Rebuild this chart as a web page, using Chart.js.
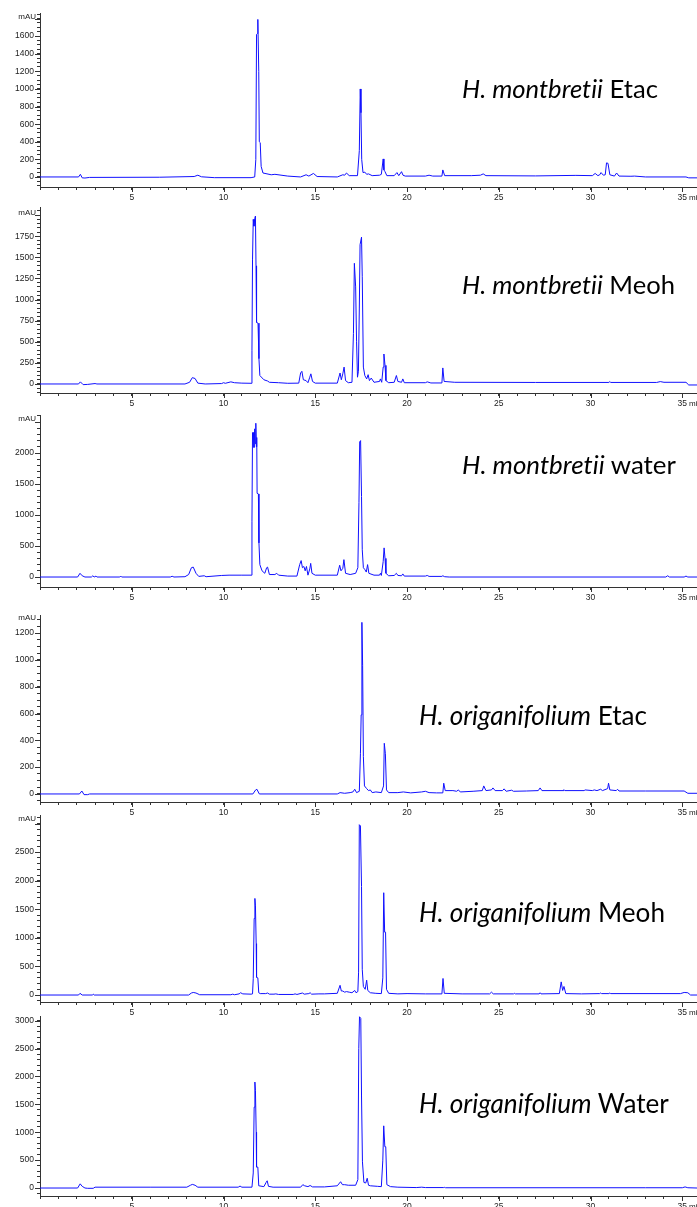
<!DOCTYPE html>
<html><head><meta charset="utf-8">
<script src="https://cdn.jsdelivr.net/npm/chart.js@4.4.1/dist/chart.umd.min.js"></script>
<style>
html,body{margin:0;padding:0;background:#fff;width:697px;height:1207px;overflow:hidden;position:relative;}
canvas{position:absolute;left:0;}
.t{position:absolute;font-family:Lato,"Open Sans",sans-serif;font-size:24px;line-height:24px;color:#000;white-space:nowrap;font-variant-ligatures:none;font-feature-settings:"liga" 0,"clig" 0;}
.t i{font-style:italic;}
.u{position:absolute;font-family:"Liberation Sans",Arial,sans-serif;font-size:8px;line-height:8px;color:#222;white-space:nowrap;}
</style></head><body>
<script>
// ---- retention time (min) / absorbance (mAU) pairs ----
const hmEtac = [[0,0],[2.1,0],[2.2,30],[2.3,-10],[2.45,-12],[2.7,-5],[6.5,-3],[8.4,5],[8.6,20],[8.8,2],[9.5,-8],[11.5,-8],[11.7,0],[11.76,200],[11.8,1620],[11.85,1630],[11.87,1790],[11.92,1200],[11.95,400],[12.0,390],[12.05,120],[12.15,45],[12.6,25],[12.8,30],[13.5,10],[14.2,0],[14.5,25],[14.65,10],[14.9,40],[15.1,5],[16.2,0],[16.5,25],[16.6,20],[16.7,45],[16.85,15],[17.3,15],[17.4,300],[17.45,1000],[17.49,730],[17.53,200],[17.6,50],[17.7,55],[17.8,30],[17.9,35],[18.1,15],[18.5,20],[18.6,30],[18.7,205],[18.74,80],[18.8,60],[18.9,15],[19.3,15],[19.45,50],[19.55,15],[19.7,60],[19.78,20],[19.9,10],[21.0,10],[21.2,20],[21.4,10],[21.9,10],[21.95,80],[22.05,15],[23.5,15],[24.0,20],[24.15,35],[24.3,15],[27.0,12],[29.2,18],[30.1,15],[30.25,40],[30.4,15],[30.5,25],[30.57,50],[30.7,20],[30.8,25],[30.87,160],[30.95,155],[31.05,25],[31.3,10],[31.42,45],[31.55,10],[32.2,8],[32.4,10],[33.0,0],[35.2,0],[35.35,-10],[35.8,-10]];
const hmMeoh = [[0,0],[2.1,0],[2.2,25],[2.35,-8],[2.6,-5],[3.0,5],[3.1,0],[7.9,0],[8.15,20],[8.3,75],[8.45,65],[8.6,10],[9.0,0],[9.9,5],[10.0,15],[10.1,8],[10.4,25],[10.6,15],[11.0,10],[11.5,8],[11.55,400],[11.58,1470],[11.62,1950],[11.66,1870],[11.7,1960],[11.74,1990],[11.77,1400],[11.8,730],[11.88,720],[11.93,300],[11.98,100],[12.2,50],[12.4,35],[12.5,20],[13.0,15],[13.5,8],[14.1,10],[14.2,130],[14.27,150],[14.35,50],[14.5,40],[14.6,15],[14.7,80],[14.76,120],[14.85,30],[15.0,10],[16.2,10],[16.35,130],[16.42,50],[16.5,120],[16.57,200],[16.65,40],[16.8,15],[17.0,20],[17.08,600],[17.13,1430],[17.2,1150],[17.25,500],[17.3,80],[17.35,150],[17.4,900],[17.44,1650],[17.48,1650],[17.52,1740],[17.56,1270],[17.62,200],[17.7,100],[17.8,60],[17.88,110],[17.95,40],[18.05,70],[18.2,20],[18.5,30],[18.55,60],[18.62,20],[18.7,200],[18.74,355],[18.8,220],[18.85,40],[19.0,15],[19.3,20],[19.42,100],[19.5,30],[19.7,20],[19.77,60],[19.85,15],[21.0,15],[21.1,25],[21.3,12],[21.9,12],[21.95,190],[22.02,30],[22.6,20],[27.0,18],[31.0,18],[31.05,28],[31.1,18],[33.6,18],[33.8,28],[34.0,20],[35.2,20],[35.35,-12],[35.8,-12]];
const hmWater = [[0,0],[2.05,0],[2.18,60],[2.3,20],[2.45,0],[2.8,0],[2.88,20],[2.95,0],[3.05,15],[3.1,0],[4.35,0],[4.4,15],[4.45,0],[7.1,0],[7.2,12],[7.3,0],[7.9,5],[8.1,40],[8.25,150],[8.35,160],[8.5,60],[8.65,10],[8.95,20],[9.05,5],[9.9,25],[10.3,30],[11.0,30],[11.5,30],[11.55,900],[11.58,2330],[11.63,2330],[11.66,2090],[11.7,2390],[11.73,2150],[11.76,2480],[11.79,2100],[11.81,2250],[11.83,1350],[11.9,1340],[11.93,550],[11.98,200],[12.1,100],[12.25,60],[12.35,150],[12.4,160],[12.5,40],[12.8,40],[12.9,60],[13.0,30],[13.5,15],[14.0,15],[14.15,200],[14.23,265],[14.3,150],[14.38,170],[14.45,100],[14.52,170],[14.6,30],[14.7,130],[14.75,220],[14.82,60],[15.0,30],[16.2,30],[16.33,190],[16.4,100],[16.5,140],[16.56,280],[16.65,60],[16.9,40],[17.2,60],[17.32,150],[17.38,1200],[17.42,2180],[17.47,2200],[17.52,1300],[17.56,440],[17.62,150],[17.7,120],[17.78,80],[17.85,200],[17.92,60],[18.2,30],[18.5,30],[18.55,60],[18.6,25],[18.7,250],[18.75,470],[18.8,300],[18.85,60],[19.0,20],[19.3,25],[19.42,60],[19.5,25],[19.7,20],[19.77,50],[19.85,15],[21.0,15],[21.1,25],[21.2,10],[21.9,10],[21.95,20],[22.05,5],[22.3,0],[34.1,0],[34.2,20],[34.3,0],[35.1,0],[35.2,15],[35.3,0],[35.8,0]];
const hoEtac = [[0,0],[2.15,0],[2.28,22],[2.4,-5],[2.6,-5],[2.7,0],[11.6,0],[11.75,30],[11.82,35],[11.95,0],[16.2,0],[16.35,10],[16.6,5],[16.9,10],[17.05,15],[17.15,35],[17.25,10],[17.4,20],[17.46,300],[17.5,590],[17.54,1280],[17.58,960],[17.62,280],[17.68,60],[17.8,40],[17.9,25],[18.0,30],[18.1,10],[18.3,15],[18.6,10],[18.72,60],[18.76,378],[18.82,300],[18.88,30],[19.0,10],[19.5,10],[19.8,15],[20.2,8],[20.8,15],[21.0,20],[21.2,10],[21.6,8],[21.95,8],[22.0,80],[22.08,25],[22.5,25],[22.7,20],[22.8,30],[22.9,15],[23.6,20],[24.1,25],[24.18,60],[24.3,25],[24.6,30],[24.68,45],[24.8,25],[25.2,25],[25.29,38],[25.4,20],[25.7,28],[25.8,20],[26.5,22],[27.15,25],[27.25,45],[27.35,25],[28.5,25],[28.55,32],[28.6,25],[29.65,25],[29.7,30],[30.1,25],[30.2,30],[30.35,25],[30.55,35],[30.65,25],[30.93,40],[30.98,80],[31.05,30],[31.4,25],[31.47,35],[31.55,22],[33.0,22],[35.1,22],[35.3,5],[35.8,5]];
const hoMeoh = [[0,0],[2.1,0],[2.18,30],[2.3,0],[2.85,0],[2.9,15],[2.95,0],[8.1,0],[8.25,35],[8.35,45],[8.5,35],[8.7,5],[10.4,5],[10.5,15],[10.6,5],[10.85,20],[10.93,40],[11.05,20],[11.5,15],[11.58,20],[11.62,285],[11.67,1340],[11.71,1690],[11.74,1560],[11.78,900],[11.8,310],[11.87,300],[11.92,40],[12.0,25],[12.3,25],[12.4,35],[12.5,15],[12.75,15],[12.85,20],[13.0,10],[13.8,10],[13.9,20],[14.0,10],[14.3,35],[14.4,15],[14.65,25],[14.72,40],[14.8,15],[15.2,20],[15.5,20],[16.2,30],[16.35,170],[16.42,70],[16.5,70],[16.6,50],[16.7,60],[16.85,50],[17.0,40],[17.15,80],[17.22,40],[17.32,60],[17.36,400],[17.4,2980],[17.46,2960],[17.52,1900],[17.56,450],[17.62,150],[17.72,100],[17.8,260],[17.86,80],[18.0,40],[18.3,30],[18.6,25],[18.68,300],[18.73,1790],[18.78,1100],[18.83,1100],[18.88,100],[19.0,30],[19.5,20],[20.0,25],[21.0,20],[21.9,20],[21.96,290],[22.03,30],[23.0,20],[24.5,20],[24.6,50],[24.7,20],[25.8,20],[25.85,30],[25.9,20],[27.2,20],[27.25,40],[27.3,20],[28.3,25],[28.4,230],[28.48,80],[28.55,150],[28.65,25],[29.5,20],[30.5,25],[30.55,35],[30.6,25],[31.0,25],[31.05,35],[31.1,25],[34.9,25],[35.1,45],[35.3,40],[35.45,0],[35.8,0]];
const hoWater = [[0,0],[2.05,0],[2.19,75],[2.3,30],[2.45,0],[2.6,-5],[2.9,-5],[3.0,15],[6.0,15],[8.0,15],[8.2,50],[8.3,65],[8.45,50],[8.6,15],[10.8,15],[10.9,35],[11.0,15],[11.55,15],[11.62,270],[11.67,1450],[11.71,1900],[11.74,1750],[11.78,1000],[11.8,375],[11.87,375],[11.92,40],[12.2,25],[12.32,100],[12.38,130],[12.45,30],[12.7,15],[14.2,15],[14.32,60],[14.42,40],[14.6,25],[14.72,45],[14.85,20],[15.5,20],[16.2,40],[16.38,113],[16.48,60],[16.6,60],[16.8,50],[17.2,50],[17.32,150],[17.37,2500],[17.41,3070],[17.48,3040],[17.52,1650],[17.57,470],[17.65,100],[17.75,90],[17.83,175],[17.9,50],[18.0,40],[18.4,30],[18.6,25],[18.68,500],[18.73,1115],[18.79,740],[18.84,740],[18.9,60],[19.1,25],[19.5,15],[20.5,8],[20.8,15],[21.0,8],[22.0,8],[22.05,12],[22.1,5],[33.0,5],[35.0,5],[35.15,20],[35.3,5],[35.8,0]];

// tick label sets (mAU) and time axis labels
const yLabels1 = [0,200,400,600,800,1000,1200,1400,1600];
const yLabels2 = [0,250,500,750,1000,1250,1500,1750];
const yLabels3 = [0,500,1000,1500,2000];
const yLabels4 = [0,200,400,600,800,1000,1200];
const yLabels5 = [0,500,1000,1500,2000,2500];
const yLabels6 = [0,500,1000,1500,2000,2500,3000];
const xLabels = [5,10,15,20,25,30,35];
const titles = [
  ['H. montbretii','Etac'],['H. montbretii','Meoh'],['H. montbretii','water'],
  ['H. origanifolium','Etac'],['H. origanifolium','Meoh'],['H. origanifolium','Water']
];

// ---- layout (pixels) ----
const panels = [
  {data:hmEtac,  labels:yLabels1, top:13,  axis:187,  min:-114, max:1863, minor:50,  major:200, mau:17,   tx:462, tb:99,   tw:196},
  {data:hmMeoh,  labels:yLabels2, top:207, axis:393,  min:-107, max:2097, minor:50,  major:250, mau:213,  tx:462, tb:295,  tw:213},
  {data:hmWater, labels:yLabels3, top:415, axis:587,  min:-161, max:2613, minor:100, major:500, mau:419,  tx:462, tb:475,  tw:214},
  {data:hoEtac,  labels:yLabels4, top:615, axis:802,  min:-60,  max:1335, minor:50,  major:200, mau:618,  tx:419, tb:725,  tw:228},
  {data:hoMeoh,  labels:yLabels5, top:815, axis:1002, min:-122, max:3150, minor:100, major:500, mau:819,  tx:419, tb:922,  tw:246},
  {data:hoWater, labels:yLabels6, top:1016,axis:1196, min:-143, max:3084, minor:100, major:500, mau:null, tx:419, tb:1113, tw:250}
];
const XAXIS_H = 14, YAXIS_W = 40, XMAX = 35.8;
const AXIS_COLOR = '#333', LINE_COLOR = '#1010ff';
const TICK_FONT = {family:'"Liberation Sans", Arial, sans-serif', size:8.5};

const majorTicks = {
  id:'majorTicks',
  afterDraw(chart, args, opts){
    const {ctx, chartArea} = chart, ys = chart.scales.y, xs = chart.scales.x;
    ctx.save(); ctx.strokeStyle = AXIS_COLOR; ctx.lineWidth = 1; ctx.beginPath();
    ys.ticks.forEach(t => { if (Math.abs(t.value % opts.major) < 1e-6) {
      const p = Math.round(ys.getPixelForValue(t.value)) + 0.5;
      ctx.moveTo(chartArea.left - 5, p); ctx.lineTo(chartArea.left, p); }});
    xs.ticks.forEach(t => { if (xLabels.includes(t.value)) {
      const p = Math.round(xs.getPixelForValue(t.value)) + 0.5;
      ctx.moveTo(p, chartArea.bottom); ctx.lineTo(p, chartArea.bottom + 5); }});
    ctx.stroke(); ctx.restore();
  }
};

panels.forEach((p, i) => {
  const cv = document.createElement('canvas');
  const h = p.axis - p.top + XAXIS_H;
  cv.width = 697; cv.height = h;
  cv.style.top = p.top + 'px'; cv.style.width = '697px'; cv.style.height = h + 'px';
  document.body.appendChild(cv);
  new Chart(cv, {
    type:'line',
    data:{datasets:[{data:p.data.map(d => ({x:d[0], y:d[1]})), borderColor:LINE_COLOR, borderWidth:1, pointRadius:0, tension:0, fill:false}]},
    options:{
      responsive:false, animation:false, devicePixelRatio:1, parsing:true,
      layout:{padding:{left:0,right:0,top:0,bottom:0}},
      plugins:{legend:{display:false}, tooltip:{enabled:false}, majorTicks:{major:p.major}},
      scales:{
        x:{type:'linear', min:0, max:XMAX,
           border:{display:true, color:AXIS_COLOR, width:1},
           grid:{drawOnChartArea:false, drawTicks:true, tickLength:3, color:AXIS_COLOR},
           ticks:{stepSize:1, autoSkip:false, includeBounds:false, maxRotation:0, padding:3, color:'#222', font:TICK_FONT,
                  callback:v => xLabels.includes(v) ? String(v) : ''},
           afterFit:s => { s.height = XAXIS_H; s.paddingLeft = 0; s.paddingRight = 0; }},
        y:{type:'linear', min:p.min, max:p.max,
           border:{display:true, color:AXIS_COLOR, width:1},
           grid:{drawOnChartArea:false, drawTicks:true, tickLength:3, color:AXIS_COLOR},
           ticks:{stepSize:p.minor, autoSkip:false, includeBounds:false, padding:3, color:'#222', font:TICK_FONT,
                  callback:v => p.labels.includes(v) ? String(v) : ''},
           afterFit:s => { s.width = YAXIS_W; s.paddingTop = 0; s.paddingBottom = 0; }}
      }
    },
    plugins:[majorTicks]
  });
  if (p.mau !== null) {
    const u = document.createElement('div'); u.className = 'u'; u.textContent = 'mAU';
    u.style.top = (p.mau - 4) + 'px'; u.style.right = (697 - 36) + 'px';
    document.body.appendChild(u);
  }
  const m = document.createElement('div'); m.className = 'u'; m.textContent = 'min';
  m.style.top = (p.axis + 7) + 'px'; m.style.left = '689px';
  document.body.appendChild(m);
  const t = document.createElement('div'); t.className = 't';
  const it = document.createElement('i'); it.textContent = titles[i][0];
  t.appendChild(it); t.appendChild(document.createTextNode(' ' + titles[i][1]));
  t.style.left = p.tx + 'px';
  document.body.appendChild(t);
  const w = t.getBoundingClientRect().width;
  const fs = 24 * p.tw / w;
  t.style.fontSize = fs.toFixed(2) + 'px'; t.style.lineHeight = fs.toFixed(2) + 'px';
  t.style.top = (p.tb - fs * 0.888) + 'px';
});
</script>
</body></html>
